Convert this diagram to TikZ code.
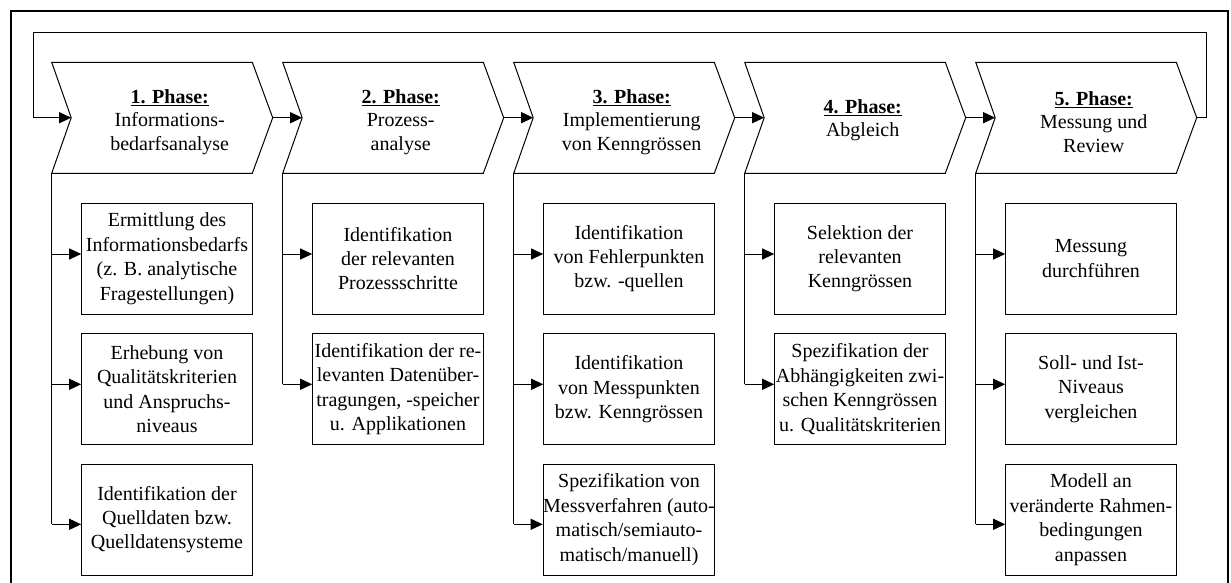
\documentclass[tikz,border=0pt]{standalone}
\usepackage{fontspec}
\setmainfont{Liberation Serif}
\usetikzlibrary{arrows.meta}
\begin{document}
\begin{tikzpicture}[x=1pt,y=-1pt,
  thinline/.style={line width=1pt},
  flow/.style={line width=1pt,-{Triangle[length=12pt,width=11pt]}},
  chev/.style={draw,line width=1pt,fill=white},
  box/.style={draw,line width=1pt,minimum width=170.6pt,minimum height=110.7pt,inner sep=0pt,align=center,font=\fontsize{20}{24.4}\selectfont},
  ptext/.style={align=center,font=\fontsize{20}{23.3}\selectfont,inner sep=0pt},
  frameline/.style={line width=2pt}]
\useasboundingbox (0,0) rectangle (1231,583);
% outer frame
\draw[frameline] (11,583) -- (11,11) -- (1228,11) -- (1228,583);
% chevrons
\foreach \i/\L in {1/51.7,2/282.7,3/513.7,4/744.7,5/975.7} {
  \coordinate (n\i) at (\L+19.5,117.7);
  \coordinate (t\i) at (\L+221,117.7);
  \coordinate (c\i) at (\L,173.3);
  \coordinate (a\i1) at (\L,254);
  \coordinate (a\i2) at (\L,384.3);
  \coordinate (a\i3) at (\L,524.3);
  \draw[chev] (\L,62.3) -- (\L+200.6,62.3) -- (t\i) -- (\L+200.6,173.3) -- (c\i) -- (n\i) -- cycle;
}
\node[ptext] (p1) at (169.7,122) {\underline{\textbf{1. Phase:}}\\Informations-\\bedarfsanalyse};
\node[ptext] (p2) at (400.7,122) {\underline{\textbf{2. Phase:}}\\Prozess-\\analyse};
\node[ptext] (p3) at (631.7,122) {\underline{\textbf{3. Phase:}}\\Implementierung\\von Kenngrössen};
\node[ptext] (p4) at (862.7,120) {\underline{\textbf{4. Phase:}}\\Abgleich};
\node[ptext] (p5) at (1093.7,122) {\underline{\textbf{5. Phase:}}\\Messung und\\Review};
% arrows between chevrons
\draw[flow] (t1) -- (n2);
\draw[flow] (t2) -- (n3);
\draw[flow] (t3) -- (n4);
\draw[flow] (t4) -- (n5);
% feedback loop
\coordinate (fbR) at (1206.7,32.3);
\coordinate (fbL) at (33.3,32.3);
\draw[flow] (t5) -| (fbR) -- (fbL) |- (n1);
% boxes
\node[box] (b11) at (167,258.65) {Ermittlung des\\Informationsbedarfs\\(z. B. analytische\\Fragestellungen)};
\node[box] (b12) at (167,389.15) {Erhebung von\\Qualitätskriterien\\und Anspruchs-\\niveaus};
\node[box] (b13) at (167,519.65) {Identifikation der\\Quelldaten bzw.\\Quelldatensysteme};
\node[box] (b21) at (398,258.65) {Identifikation\\der relevanten\\Prozessschritte};
\node[box] (b22) at (398,389.15) {Identifikation der re-\\levanten Datenüber-\\tragungen, -speicher\\u. Applikationen};
\node[box] (b31) at (629,258.65) {Identifikation\\von Fehlerpunkten\\bzw. -quellen};
\node[box] (b32) at (629,389.15) {Identifikation\\von Messpunkten\\bzw. Kenngrössen};
\node[box] (b33) at (629,519.65) {Spezifikation von\\Messverfahren (auto-\\matisch/semiauto-\\matisch/manuell)};
\node[box] (b41) at (860,258.65) {Selektion der\\relevanten\\Kenngrössen};
\node[box] (b42) at (860,389.15) {Spezifikation der\\Abhängigkeiten zwi-\\schen Kenngrössen\\u. Qualitätskriterien};
\node[box] (b51) at (1091,258.65) {Messung\\durchführen};
\node[box] (b52) at (1091,389.15) {Soll- und Ist-\\Niveaus\\vergleichen};
\node[box] (b53) at (1091,519.65) {Modell an\\veränderte Rahmen-\\bedingungen\\anpassen};
% vertical spines
\draw[thinline] (c1) -- (a13);
\draw[thinline] (c2) -- (a22);
\draw[thinline] (c3) -- (a33);
\draw[thinline] (c4) -- (a42);
\draw[thinline] (c5) -- (a53);
% box arrows
\draw[flow] (a11) -- (b11.west |- a11);
\draw[flow] (a12) -- (b12.west |- a12);
\draw[flow] (a13) -- (b13.west |- a13);
\draw[flow] (a21) -- (b21.west |- a21);
\draw[flow] (a22) -- (b22.west |- a22);
\draw[flow] (a31) -- (b31.west |- a31);
\draw[flow] (a32) -- (b32.west |- a32);
\draw[flow] (a33) -- (b33.west |- a33);
\draw[flow] (a41) -- (b41.west |- a41);
\draw[flow] (a42) -- (b42.west |- a42);
\draw[flow] (a51) -- (b51.west |- a51);
\draw[flow] (a52) -- (b52.west |- a52);
\draw[flow] (a53) -- (b53.west |- a53);
\end{tikzpicture}
\end{document}
